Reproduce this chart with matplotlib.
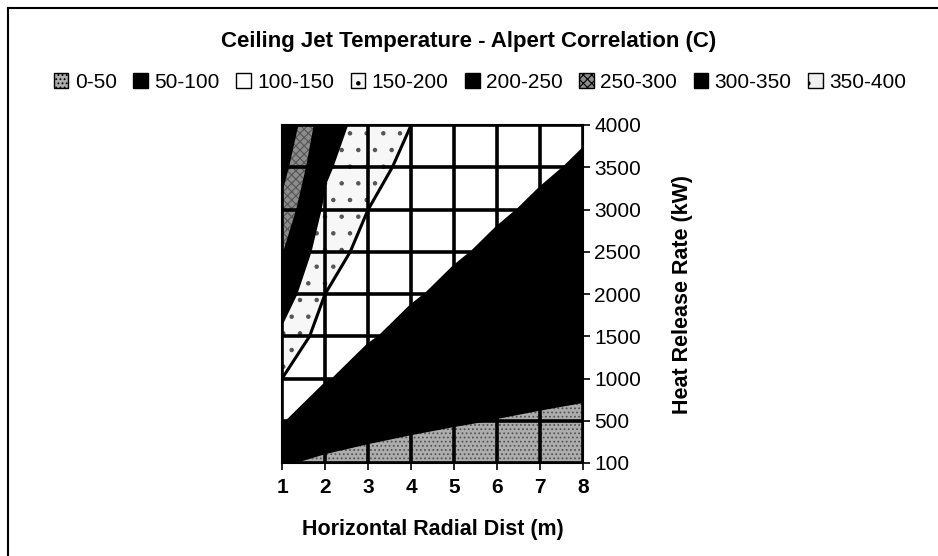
import numpy as np
import matplotlib
matplotlib.use("Agg")
import matplotlib.pyplot as plt
from matplotlib.patches import Patch
from matplotlib.lines import Line2D

plt.rcParams['font.family'] = ['Liberation Sans', 'DejaVu Sans']
plt.rcParams['hatch.linewidth'] = 0.8
plt.rcParams['hatch.color'] = '#555555'

# horizontal radial distance (m), columns
dist = [1, 2, 3, 4, 5, 6, 7, 8]
# heat release rate (kW), rows -- category axis in the original
hrr = [100, 500, 1000, 1500, 2000, 2500, 3000, 3500, 4000]
hrr_labels = ['100', '500', '1000', '1500', '2000', '2500', '3000', '3500', '4000']

# ceiling jet temperature (C), one row per heat release rate
temp_100 = [52.0, 42.0, 38.0, 35.7, 34.2, 33.2, 32.4, 31.7]
temp_500 = [103.8, 74.7, 62.9, 56.3, 52.0, 48.9, 46.5, 44.7]
temp_1000 = [150.1, 103.8, 85.2, 74.7, 67.8, 62.9, 59.2, 56.3]
temp_1500 = [189.0, 128.3, 103.8, 90.1, 81.1, 74.7, 69.8, 66.0]
temp_2000 = [223.6, 150.1, 120.5, 103.8, 92.9, 85.2, 79.3, 74.7]
temp_2500 = [255.5, 170.2, 135.8, 116.5, 103.8, 94.8, 88.0, 82.6]
temp_3000 = [285.3, 189.0, 150.1, 128.3, 114.0, 103.8, 96.1, 90.1]
temp_3500 = [313.4, 206.7, 163.7, 139.5, 123.6, 112.4, 103.8, 97.1]
temp_4000 = [340.3, 223.6, 176.6, 150.1, 132.8, 120.5, 111.2, 103.8]

levels = [0, 50, 100, 150, 200, 250, 300, 350, 400]
band_labels = ['0-50', '50-100', '100-150', '150-200', '200-250',
               '250-300', '300-350', '350-400']
band_colors = ['#adadad', 'black', 'white', '#f7f7f7', 'black',
               '#8c8c8c', 'black', '#f0f0f0']
band_hatch = ['....', None, None, '.', None, 'xxxx', None, '.']

temps = np.array([temp_100, temp_500, temp_1000, temp_1500, temp_2000,
                  temp_2500, temp_3000, temp_3500, temp_4000])

fig = plt.figure(figsize=(9.38, 5.56), dpi=100)
ax = fig.add_axes([282 / 938, 1 - 463 / 556, 301 / 938, 338 / 556])

ypos = np.arange(len(hrr))
ax.contourf(dist, ypos, temps, levels=levels, colors=band_colors,
            hatches=band_hatch)
ax.contour(dist, ypos, temps, levels=levels[1:-1], colors='black',
           linewidths=2.2)

ax.set_xlim(1, 8)
ax.set_ylim(0, len(hrr) - 1)
ax.set_xticks(dist)
ax.set_yticks(ypos)
ax.set_yticklabels(hrr_labels)
ax.yaxis.tick_right()
ax.yaxis.set_label_position('right')
ax.tick_params(axis='x', direction='out', length=5, width=1.2, labelsize=15, pad=6)
ax.tick_params(axis='y', direction='out', length=5, width=1.2, labelsize=15, pad=3)
for t in ax.get_xticklabels():
    t.set_fontweight('bold')

ax.grid(True, color='black', linewidth=2.6)
ax.set_axisbelow(False)
for s in ax.spines.values():
    s.set_linewidth(1.5)
    s.set_zorder(5)

ax.set_xlabel('Horizontal Radial Dist (m)', fontsize=15.5, fontweight='bold',
              labelpad=16)
ax.set_ylabel('Heat Release Rate (kW)', fontsize=15.5, fontweight='bold',
              labelpad=22)

fig.text(0.5, 1 - 42 / 556, 'Ceiling Jet Temperature - Alpert Correlation (C)',
         ha='center', va='center', fontsize=16, fontweight='bold')

handles = [Patch(facecolor=c, edgecolor='black', hatch=h, linewidth=1)
           for c, h in zip(band_colors, band_hatch)]
fig.legend(handles, band_labels, loc='center', bbox_to_anchor=(480 / 938, 1 - 82 / 556),
           ncol=8, frameon=False, fontsize=15, handlelength=0.7, handleheight=0.7,
           handletextpad=0.3, columnspacing=0.8)

# chart area border (only top and left edges visible in the original)
fig.add_artist(Line2D([8 / 938, 8 / 938], [0, 1 - 8 / 556], transform=fig.transFigure,
                      color='black', linewidth=1.5))
fig.add_artist(Line2D([8 / 938, 1], [1 - 8 / 556, 1 - 8 / 556], transform=fig.transFigure,
                      color='black', linewidth=1.5))

fig.savefig('out.png', dpi=100)
